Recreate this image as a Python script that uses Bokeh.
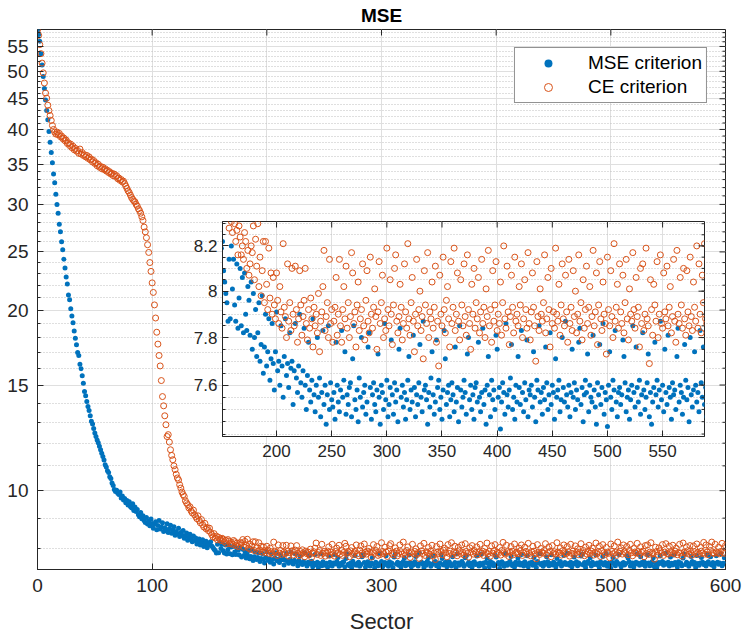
import math
from bokeh.plotting import figure
from bokeh.models import (Range1d, FixedTicker, Legend, LegendItem, PrintfTickFormatter)
from bokeh.embed import file_html
from bokeh.resources import INLINE

# ---------------- data ----------------
sectors = list(range(0, 601))

mse_values = [
    58.5, 57.6, 56.1, 53.5, 51.2, 49.0, 46.8, 44.8, 43.0, 41.5,
    39.7, 38.1, 36.6, 35.2, 33.7, 32.6, 31.2, 30.0, 29.0, 27.8,
    27.0, 26.0, 25.2, 24.3, 23.5, 22.7, 22.1, 21.2, 20.8, 20.1,
    19.55, 19.05, 18.46, 17.95, 17.5, 17.0, 16.8, 16.25, 15.96, 15.54,
    15.1, 14.63, 14.39, 14.08, 13.81, 13.6, 13.33,
    13.05, 12.92, 12.70, 12.48, 12.31, 12.15, 12.02, 11.86, 11.70, 11.55,
    11.40, 11.25, 11.05, 10.95, 10.80, 10.72, 10.55, 10.48, 10.30, 10.20,
    10.05, 9.97, 10.02, 9.90, 9.85, 9.95, 9.72, 9.80, 9.65, 9.70,
    9.55, 9.63, 9.47, 9.58, 9.41, 9.36, 9.51, 9.27, 9.39, 9.23,
    9.30, 9.12, 9.05, 9.20, 8.98, 9.08, 8.92, 8.85, 9.02, 8.80,
    8.90, 8.74, 8.97, 8.82, 8.66, 8.79, 8.88, 8.61, 8.75, 8.92,
    8.63, 8.70, 8.84, 8.55, 8.67, 8.58, 8.81, 8.52, 8.64, 8.76,
    8.49, 8.60, 8.71, 8.43, 8.55, 8.47, 8.66, 8.39, 8.52, 8.44,
    8.58, 8.33, 8.41, 8.50, 8.27, 8.36, 8.46, 8.30, 8.22, 8.40,
    8.26, 8.34, 8.15, 8.23, 8.31, 8.12, 8.20, 8.28, 8.07, 8.17,
    8.24, 8.03, 8.11, 8.19,
    8.22, 8.09, 8.04, 7.99, 7.95, 7.87, 8.14, 7.88, 8.20, 8.01,
    8.14, 7.94, 7.87, 8.12, 7.84, 7.97, 8.10, 7.85, 8.06, 7.82,
    8.08, 7.90, 7.83, 8.02, 7.96, 7.81, 8.04, 7.75, 7.99, 7.80,
    7.92, 7.72, 7.82, 7.95, 7.70, 7.77, 7.98, 7.65, 7.76, 7.90,
    7.68, 7.74, 7.88, 7.62, 7.71, 7.86, 7.69, 7.58, 7.74, 7.91,
    7.66, 7.70, 7.60, 7.85, 7.68, 7.55, 7.72, 7.88, 7.64, 7.69,
    7.59, 7.82, 7.67, 7.70, 7.52, 7.66, 7.86, 7.63, 7.57, 7.68,
    7.90, 7.61, 7.55, 7.66, 7.84, 7.60, 7.50, 7.64, 7.78, 7.58,
    7.53, 7.62, 7.88, 7.56, 7.49, 7.60, 7.80, 7.55, 7.63, 7.47,
    7.57, 7.83, 7.52, 7.60, 7.44, 7.56, 7.85, 7.50, 7.61, 7.54,
    7.51, 7.57, 7.46, 7.78, 7.60, 7.53, 7.49, 7.58, 7.83, 7.55,
    7.62, 7.74, 7.48, 7.56, 7.52, 7.59, 7.61, 7.47, 7.71, 7.85,
    7.54, 7.50, 7.58, 7.45, 7.63, 7.55, 7.80, 7.51, 7.57, 7.60,
    7.48, 7.53, 7.76, 7.82, 7.59, 7.46, 7.56, 7.61, 7.52, 7.49,
    7.58, 7.73, 7.55, 7.44, 7.60, 7.57, 7.50, 7.86, 7.54, 7.62,
    7.47, 7.52, 7.59, 7.79, 7.56, 7.48, 7.61, 7.53, 7.58, 7.45,
    7.75, 7.84, 7.55, 7.60, 7.51, 7.57, 7.46, 7.54, 7.62, 7.72,
    7.50, 7.58, 7.53, 7.81, 7.59, 7.47, 7.56, 7.52, 7.61, 7.77,
    7.55, 7.49, 7.87, 7.58, 7.60, 7.54, 7.44, 7.57, 7.51, 7.63,
    7.74, 7.56, 7.48, 7.53, 7.79, 7.59, 7.62, 7.50, 7.55, 7.46,
    7.58, 7.83, 7.71, 7.52, 7.57, 7.60, 7.47, 7.54, 7.61, 7.56,
    7.49, 7.76, 7.53, 7.59, 7.45, 7.85, 7.58, 7.51, 7.55, 7.62,
    7.57, 7.48, 7.73, 7.80, 7.54, 7.60, 7.50, 7.56, 7.46, 7.59,
    7.61, 7.53, 7.78, 7.55, 7.49, 7.57, 7.84, 7.52, 7.58, 7.44,
    7.60, 7.72, 7.56, 7.47, 7.62, 7.54, 7.58, 7.50, 7.81, 7.75,
    7.55, 7.59, 7.42, 7.53, 7.61, 7.57, 7.48, 7.86, 7.56, 7.51,
    7.58, 7.63, 7.77, 7.50, 7.55, 7.46, 7.60, 7.53, 7.72, 7.59,
    7.52, 7.83, 7.57, 7.49, 7.61, 7.54, 7.79, 7.47, 7.58, 7.56,
    7.60, 7.51, 7.74, 7.55, 7.45, 7.62, 7.58, 7.85, 7.53, 7.57,
    7.48, 7.59, 7.54, 7.76, 7.61, 7.50, 7.56, 7.82, 7.52, 7.60,
    7.57, 7.46, 7.71, 7.55, 7.58, 7.62, 7.49, 7.54, 7.80, 7.59,
    7.53, 7.87, 7.56, 7.51, 7.60, 7.47, 7.57, 7.75, 7.55, 7.61,
    7.50, 7.58, 7.54, 7.78, 7.84, 7.52, 7.59, 7.45, 7.56, 7.62,
    7.57, 7.73, 7.49, 7.60, 7.55, 7.53, 7.81, 7.58, 7.51, 7.44,
    7.61, 7.56, 7.77, 7.52, 7.59, 7.86, 7.48, 7.57, 7.54, 7.43,
    7.60, 7.74, 7.55, 7.50, 7.62, 7.58, 7.83, 7.53, 7.47, 7.57,
    7.59, 7.52, 7.56, 7.79, 7.72, 7.61, 7.49, 7.55, 7.58, 7.46,
    7.54, 7.60, 7.85, 7.57, 7.51, 7.76, 7.59, 7.53, 7.62, 7.48,
    7.56, 7.82, 7.58, 7.50, 7.55, 7.61, 7.73, 7.47, 7.57, 7.44,
    7.53, 7.59, 7.78, 7.56, 7.62, 7.51, 7.58, 7.87, 7.54, 7.60,
    7.49, 7.75, 7.57, 7.52, 7.81, 7.59, 7.55, 7.46, 7.61, 7.56,
    7.58, 7.50, 7.72, 7.84, 7.53, 7.60, 7.57, 7.48, 7.55, 7.77,
    7.62, 7.54, 7.59, 7.45, 7.80, 7.56, 7.51, 7.58, 7.74, 7.60,
    7.53, 7.57, 7.49, 7.83, 7.61, 7.55, 7.76, 7.52, 7.59, 7.47,
    7.56, 7.79, 7.60, 7.54, 7.58, 7.85, 7.50, 7.57, 7.73, 7.55,
]

ce_values = [
    58.6, 57.4, 55.4, 53.5, 51.6, 49.7, 47.8, 46.0, 45.1, 43.9,
    43.0, 42.2, 41.4, 40.6, 40.0, 39.6, 39.3,
    39.6, 39.2, 39.4, 38.9, 39.0, 38.6, 38.7, 38.3, 38.4, 37.9,
    38.0, 37.6, 37.8, 37.3, 37.5, 37.0, 37.2, 36.8, 36.9, 36.5,
    37.1, 36.4, 36.6, 36.2, 36.3, 36.0, 36.2, 35.8, 36.0, 35.6,
    35.7, 35.3, 35.5, 35.1, 35.2, 34.8, 35.0, 34.6, 34.7, 34.4,
    34.6, 34.3, 34.4, 34.1, 34.2, 33.9, 34.0, 33.7, 33.8, 33.5,
    33.7, 33.4, 33.5, 33.1, 33.2, 32.9, 33.0, 32.7, 32.8, 32.5,
    32.2, 31.9, 31.6, 31.4, 31.1, 30.8, 30.6, 30.4, 30.3, 30.0,
    29.8, 29.5, 29.3, 29.0, 28.6,
    28.2, 27.5, 27.0, 26.4, 25.7, 24.95, 24.0, 23.2, 22.2, 21.4,
    20.4, 19.4, 18.37, 17.55, 16.8, 16.14, 15.26, 14.35, 13.85, 13.33,
    12.88, 12.31, 12.40, 12.05, 11.70, 11.45, 11.26, 11.00, 10.84, 10.65,
    10.50, 10.42, 10.23, 10.10, 9.95, 9.85, 9.78, 9.62, 9.54, 9.48,
    9.36, 9.40, 9.25, 9.18, 9.28, 9.12, 9.05, 8.98, 9.08, 8.92,
    8.84, 8.95, 8.78, 8.70, 8.82, 8.64, 8.68, 8.58, 8.66, 8.52,
    8.45, 8.38, 8.48, 8.34, 8.40, 8.28, 8.36, 8.31, 8.26, 8.33,
    8.30, 8.22, 8.27, 8.16, 8.29, 8.24, 8.16, 8.20, 8.14, 8.26,
    8.22, 8.10, 8.18, 8.07, 8.12, 8.20, 8.17, 8.29, 8.05, 8.23,
    8.11, 8.30, 8.02, 8.15, 7.98, 8.09, 8.22, 7.95, 8.22, 8.03,
    7.92, 8.19, 7.97, 8.08, 7.90, 8.06, 7.94, 7.88, 8.08, 7.96,
    7.86, 8.02, 7.91, 7.84, 8.21, 7.93, 7.89, 7.80, 8.12, 7.87,
    7.95, 7.83, 8.10, 7.90, 7.85, 8.11, 7.92, 7.78, 7.88, 8.09,
    7.94, 7.81, 7.89, 7.96, 8.10, 7.86, 7.79, 7.92, 7.84, 7.97,
    7.88, 7.76, 7.93, 7.85, 7.90, 7.82, 7.99, 7.74, 7.87, 7.91,
    8.02, 8.18, 7.83, 7.89, 7.95, 7.80, 8.14, 7.86, 7.92, 7.78,
    7.87, 7.93, 8.06, 7.81, 7.90, 8.14, 7.85, 7.78, 7.92, 8.02,
    7.88, 8.11, 7.84, 7.95, 7.80, 7.89, 8.17, 8.08, 7.86, 7.91,
    7.76, 7.94, 8.04, 7.83, 7.88, 7.92, 8.12, 7.85, 7.79, 7.96,
    8.09, 7.87, 7.82, 8.15, 7.90, 7.84, 7.93, 8.01, 7.89, 7.75,
    7.91, 8.13, 7.86, 7.95, 8.07, 7.80, 7.88, 7.83, 8.19, 7.92,
    7.85, 8.05, 7.90, 7.77, 7.94, 8.10, 8.16, 7.87, 7.82, 7.89,
    8.03, 7.93, 7.79, 7.86, 8.12, 7.91, 7.84, 8.21, 7.88, 7.81,
    7.95, 8.06, 7.87, 7.74, 7.90, 8.14, 7.85, 7.92, 8.00, 7.83,
    7.89, 7.71, 8.09, 7.94, 7.86, 8.17, 7.80, 7.91, 7.88, 8.04,
    7.84, 7.93, 8.11, 7.78, 7.87, 7.68, 8.07, 7.90, 7.85, 8.15,
    7.92, 7.82, 7.96, 8.02, 7.88, 7.76, 8.13, 7.86, 7.93, 8.19,
    7.83, 7.90, 8.08, 7.87, 7.79, 8.05, 7.94, 7.85, 8.12, 7.89,
    7.81, 8.16, 7.92, 7.86, 7.75, 8.03, 7.90, 8.10, 7.84, 7.95,
    7.88, 8.06, 7.82, 7.91, 8.14, 7.86, 7.93, 7.80, 8.01, 7.89,
    8.18, 7.85, 7.92, 7.78, 8.09, 7.87, 7.94, 8.13, 7.83, 7.90,
    7.86, 8.04, 7.81, 7.95, 8.20, 7.88, 7.84, 8.11, 7.91, 7.77,
    7.89, 8.07, 7.93, 7.82, 8.15, 7.87, 7.90, 7.85, 8.02, 7.94,
    8.12, 7.80, 7.88, 8.05, 7.92, 7.84, 8.17, 7.86, 7.79, 7.91,
    8.08, 7.93, 7.85, 7.70, 8.13, 7.89, 7.83, 8.01, 7.90, 7.87,
    7.95, 8.16, 7.82, 7.88, 8.06, 7.92, 7.76, 8.10, 7.86, 7.91,
    7.84, 8.19, 7.90, 7.87, 8.03, 7.81, 7.94, 8.12, 7.88, 7.85,
    8.07, 7.91, 7.78, 8.14, 7.86, 7.93, 7.83, 8.09, 7.89, 8.00,
    7.82, 7.90, 8.16, 7.87, 7.95, 7.79, 8.05, 7.84, 7.92, 8.11,
    7.86, 7.93, 8.02, 7.81, 7.89, 8.18, 7.85, 7.91, 8.08, 7.77,
    7.94, 8.13, 7.88, 7.83, 8.04, 7.90, 7.86, 7.73, 8.15, 7.92,
    7.85, 8.09, 7.89, 7.80, 8.21, 7.87, 7.93, 8.03, 7.84, 8.12,
    7.91, 7.86, 8.07, 7.82, 7.95, 8.14, 7.88, 7.79, 8.01, 7.90,
    7.87, 8.17, 7.92, 7.84, 8.06, 7.89, 7.93, 7.76, 8.10, 7.86,
    8.12, 7.83, 7.90, 8.19, 7.88, 7.85, 7.69, 8.05, 7.92, 7.81,
    8.03, 7.94, 7.87, 8.13, 7.80, 7.90, 8.16, 7.86, 7.84, 8.08,
    7.91, 7.88, 8.11, 7.85, 7.93, 8.02, 7.82, 7.89, 8.14, 7.87,
    7.78, 8.18, 7.90, 7.86, 8.06, 7.94, 7.84, 8.10, 7.88, 7.81,
    8.09, 7.91, 7.85, 8.15, 7.89, 7.83, 8.04, 7.93, 7.87, 8.20,
    7.84, 8.12, 7.90, 7.82, 8.07, 7.95, 8.21, 7.88, 7.86, 8.14,
    7.91, 7.87, 8.05, 7.85, 7.92, 8.17, 7.89, 7.86, 8.10,
]

series_labels = ["MSE criterion", "CE criterion"]
x_ticks = [0, 100, 200, 300, 400, 500, 600]
y_ticks = [10, 15, 20, 25, 30, 35, 40, 45, 50, 55]
inset_x_ticks = [200, 250, 300, 350, 400, 450, 500, 550]
inset_y_ticks = [7.6, 7.8, 8, 8.2]

# ---------------- style ----------------
FONT = "Liberation Sans"
AX = "#262626"
BLUE = "#0072BD"
ORANGE = "#D95319"
GRID = "#DFDFDF"
MINOR = "#BFBFBF"

y_minor = [v for v in range(8, 59) if v not in y_ticks]
inset_y_minor = [round(7.40 + 0.05 * i, 2) for i in range(19)]


def style_axis(ax, size, standoff):
    ax.axis_line_color = AX
    ax.axis_line_width = 1
    ax.major_tick_line_color = AX
    ax.minor_tick_line_color = AX
    ax.major_tick_in = 6
    ax.major_tick_out = 0
    ax.minor_tick_in = 3
    ax.minor_tick_out = 0
    ax.major_label_text_font = FONT
    ax.major_label_text_color = AX
    ax.major_label_text_font_size = size
    ax.major_label_standoff = standoff


def mirror_ticks(fig, xr, yr, xt, yt, ymin):
    # tick marks on the top and right edges of the box (MATLAB "box on")
    fig.ray(x=xt, y=[yr.end] * len(xt), length=6, length_units="screen",
            angle=-math.pi / 2, line_color=AX, line_width=1)
    fig.ray(x=[xr.end] * len(yt), y=yt, length=6, length_units="screen",
            angle=math.pi, line_color=AX, line_width=1)
    fig.ray(x=[xr.end] * len(ymin), y=ymin, length=3, length_units="screen",
            angle=math.pi, line_color=AX, line_width=1)


# ---------------- main figure ----------------
p = figure(width=745, height=636, x_range=Range1d(0, 600), y_range=Range1d(7.39, 58.7),
           y_axis_type="log", output_backend="svg", toolbar_location=None,
           min_border_left=37, min_border_right=20, min_border_top=29, min_border_bottom=66,
           background_fill_color="white", border_fill_color="white",
           outline_line_color=AX, outline_line_width=1)

p.title.text = "MSE"
p.title.align = "center"
p.title.vertical_align = "top"
p.title.text_font = FONT
p.title.text_font_style = "bold"
p.title.text_font_size = "19px"
p.title.text_color = "#000000"
p.title.standoff = 4
p.title.offset = -4

p.xaxis.ticker = FixedTicker(ticks=x_ticks)
p.yaxis.ticker = FixedTicker(ticks=y_ticks, minor_ticks=y_minor)
p.yaxis.formatter = PrintfTickFormatter(format="%g")
style_axis(p.xaxis[0], "19px", 9)
style_axis(p.yaxis[0], "19px", 9)
p.xaxis.axis_label = "Sector"
p.xaxis.axis_label_text_font = FONT
p.xaxis.axis_label_text_font_size = "22px"
p.xaxis.axis_label_text_font_style = "normal"
p.xaxis.axis_label_text_color = AX
p.xaxis.axis_label_standoff = 14

p.xgrid.grid_line_color = GRID
p.ygrid.grid_line_color = GRID
p.ygrid.minor_grid_line_color = MINOR
p.ygrid.minor_grid_line_dash = "1 2"

r_mse = p.scatter(sectors, mse_values, marker="circle", size=5, fill_color=BLUE, line_color=None)
r_ce = p.scatter(sectors, ce_values, marker="circle", size=6, fill_color=None,
                 line_color=ORANGE, line_width=1)
mirror_ticks(p, p.x_range, p.y_range, x_ticks, y_ticks, y_minor)

legend = Legend(items=[LegendItem(label=series_labels[0], renderers=[r_mse]),
                       LegendItem(label=series_labels[1], renderers=[r_ce])],
                location="top_right", margin=18, padding=4, spacing=2,
                glyph_width=58, glyph_height=20, label_height=20, label_standoff=11,
                label_text_font=FONT, label_text_font_size="19px", label_text_color="#000000",
                border_line_color=AX, border_line_width=1,
                background_fill_color="white", background_fill_alpha=1.0)
p.add_layout(legend)

# ---------------- inset figure ----------------
ins = figure(width=532, height=255, x_range=Range1d(151, 588), y_range=Range1d(7.39, 8.31),
             y_axis_type="log", output_backend="svg", toolbar_location=None,
             min_border_left=40, min_border_right=10, min_border_top=10, min_border_bottom=30,
             background_fill_color="white", border_fill_color=None,
             outline_line_color=AX, outline_line_width=1)
ins.styles = {"position": "absolute", "left": "182px", "top": "211px"}

ins.xaxis.ticker = FixedTicker(ticks=inset_x_ticks)
ins.yaxis.ticker = FixedTicker(ticks=inset_y_ticks, minor_ticks=inset_y_minor)
ins.yaxis.formatter = PrintfTickFormatter(format="%g")
style_axis(ins.xaxis[0], "17px", 8)
style_axis(ins.yaxis[0], "17px", 5)

ins.xgrid.grid_line_color = GRID
ins.ygrid.grid_line_color = GRID
ins.ygrid.minor_grid_line_color = MINOR
ins.ygrid.minor_grid_line_dash = "1 2"

ins.scatter(sectors, mse_values, marker="circle", size=5, fill_color=BLUE, line_color=None)
ins.scatter(sectors, ce_values, marker="circle", size=6, fill_color=None,
            line_color=ORANGE, line_width=1)
mirror_ticks(ins, ins.x_range, ins.y_range, inset_x_ticks, inset_y_ticks, inset_y_minor)

open("out.html", "w").write(file_html([p, ins], INLINE, title="MSE"))
